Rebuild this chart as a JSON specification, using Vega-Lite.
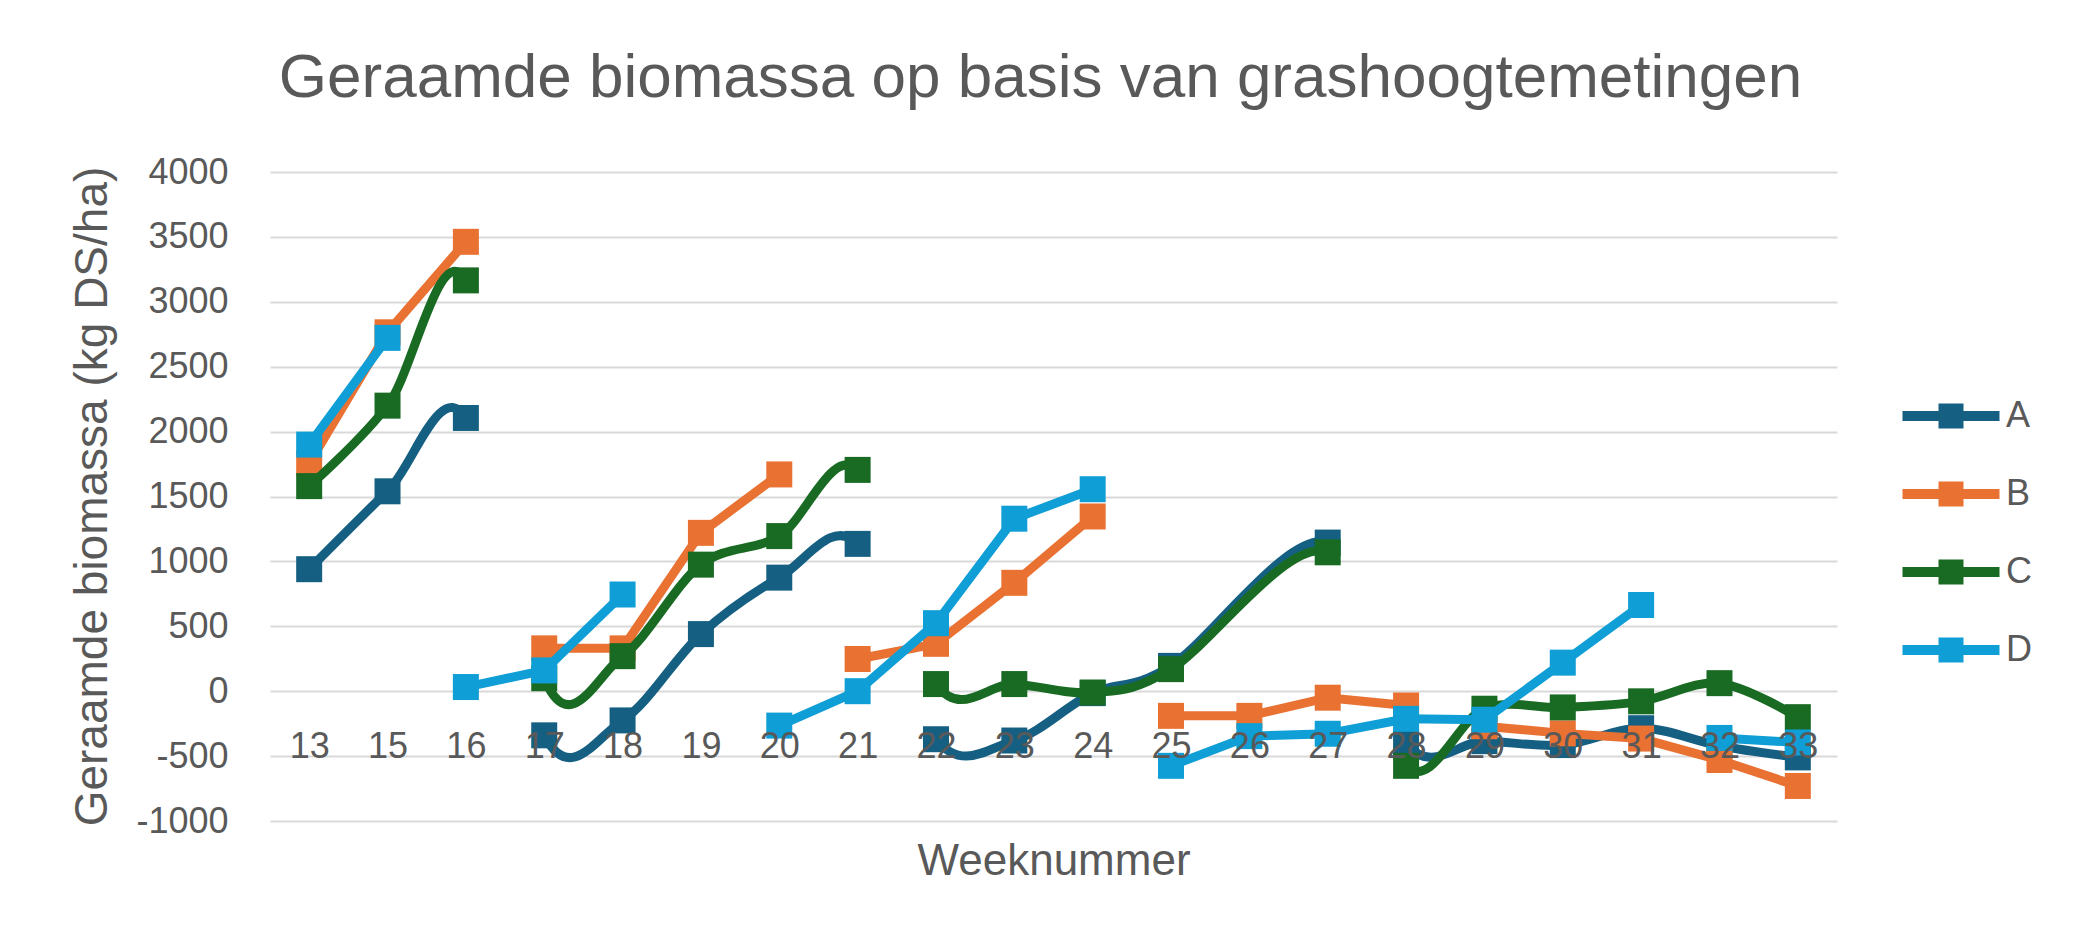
{
  "$schema": "https://vega.github.io/schema/vega-lite/v6.json",
  "width": 1567,
  "height": 649,
  "autosize": {"type": "none"},
  "padding": {"left": 270, "top": 172, "right": 245, "bottom": 124},
  "background": "white",
  "config": {
    "font": "Liberation Sans",
    "view": {"stroke": null}
  },
  "title": {
    "text": "Geraamde biomassa op basis van grashoogtemetingen",
    "fontSize": 62,
    "fontWeight": "normal",
    "color": "#595959",
    "anchor": "middle",
    "frame": "group",
    "baseline": "alphabetic",
    "offset": -5,
    "dx": -13
  },
  "data": {
    "values": [
      {"series": "A", "seg": 1, "week": "13", "value": 940},
      {"series": "A", "seg": 1, "week": "15", "value": 1540},
      {"series": "A", "seg": 1, "week": "16", "value": 2105},
      {"series": "A", "seg": 2, "week": "17", "value": -340},
      {"series": "A", "seg": 2, "week": "18", "value": -225},
      {"series": "A", "seg": 2, "week": "19", "value": 440},
      {"series": "A", "seg": 2, "week": "20", "value": 875},
      {"series": "A", "seg": 2, "week": "21", "value": 1135},
      {"series": "A", "seg": 3, "week": "22", "value": -370},
      {"series": "A", "seg": 3, "week": "23", "value": -380},
      {"series": "A", "seg": 3, "week": "24", "value": -15},
      {"series": "A", "seg": 3, "week": "25", "value": 195},
      {"series": "A", "seg": 3, "week": "27", "value": 1145},
      {"series": "A", "seg": 4, "week": "28", "value": -400},
      {"series": "A", "seg": 4, "week": "29", "value": -385},
      {"series": "A", "seg": 4, "week": "30", "value": -415},
      {"series": "A", "seg": 4, "week": "31", "value": -285},
      {"series": "A", "seg": 4, "week": "32", "value": -420},
      {"series": "A", "seg": 4, "week": "33", "value": -510},

      {"series": "B", "seg": 1, "week": "13", "value": 1755},
      {"series": "B", "seg": 1, "week": "15", "value": 2765},
      {"series": "B", "seg": 1, "week": "16", "value": 3462},
      {"series": "B", "seg": 2, "week": "17", "value": 330},
      {"series": "B", "seg": 2, "week": "18", "value": 330},
      {"series": "B", "seg": 2, "week": "19", "value": 1220},
      {"series": "B", "seg": 2, "week": "20", "value": 1670},
      {"series": "B", "seg": 3, "week": "21", "value": 248},
      {"series": "B", "seg": 3, "week": "22", "value": 365},
      {"series": "B", "seg": 3, "week": "23", "value": 835},
      {"series": "B", "seg": 3, "week": "24", "value": 1346},
      {"series": "B", "seg": 4, "week": "25", "value": -190},
      {"series": "B", "seg": 4, "week": "26", "value": -190},
      {"series": "B", "seg": 4, "week": "27", "value": -50},
      {"series": "B", "seg": 4, "week": "28", "value": -110},
      {"series": "B", "seg": 5, "week": "29", "value": -270},
      {"series": "B", "seg": 5, "week": "30", "value": -325},
      {"series": "B", "seg": 5, "week": "31", "value": -365},
      {"series": "B", "seg": 5, "week": "32", "value": -530},
      {"series": "B", "seg": 5, "week": "33", "value": -730},

      {"series": "C", "seg": 1, "week": "13", "value": 1580},
      {"series": "C", "seg": 1, "week": "15", "value": 2200},
      {"series": "C", "seg": 1, "week": "16", "value": 3165},
      {"series": "C", "seg": 2, "week": "17", "value": 100},
      {"series": "C", "seg": 2, "week": "18", "value": 270},
      {"series": "C", "seg": 2, "week": "19", "value": 975},
      {"series": "C", "seg": 2, "week": "20", "value": 1195},
      {"series": "C", "seg": 2, "week": "21", "value": 1705},
      {"series": "C", "seg": 3, "week": "22", "value": 55},
      {"series": "C", "seg": 3, "week": "23", "value": 55},
      {"series": "C", "seg": 3, "week": "24", "value": -10},
      {"series": "C", "seg": 3, "week": "25", "value": 170},
      {"series": "C", "seg": 3, "week": "27", "value": 1070},
      {"series": "C", "seg": 4, "week": "28", "value": -575},
      {"series": "C", "seg": 4, "week": "29", "value": -135},
      {"series": "C", "seg": 4, "week": "30", "value": -125},
      {"series": "C", "seg": 4, "week": "31", "value": -78},
      {"series": "C", "seg": 4, "week": "32", "value": 62},
      {"series": "C", "seg": 4, "week": "33", "value": -200},

      {"series": "D", "seg": 1, "week": "13", "value": 1900},
      {"series": "D", "seg": 1, "week": "15", "value": 2722},
      {"series": "D", "seg": 2, "week": "16", "value": 32},
      {"series": "D", "seg": 2, "week": "17", "value": 160},
      {"series": "D", "seg": 2, "week": "18", "value": 745},
      {"series": "D", "seg": 3, "week": "20", "value": -265},
      {"series": "D", "seg": 3, "week": "21", "value": 0},
      {"series": "D", "seg": 3, "week": "22", "value": 524},
      {"series": "D", "seg": 3, "week": "23", "value": 1329},
      {"series": "D", "seg": 3, "week": "24", "value": 1556},
      {"series": "D", "seg": 4, "week": "25", "value": -575},
      {"series": "D", "seg": 4, "week": "26", "value": -346},
      {"series": "D", "seg": 4, "week": "27", "value": -328},
      {"series": "D", "seg": 4, "week": "28", "value": -213},
      {"series": "D", "seg": 4, "week": "29", "value": -220},
      {"series": "D", "seg": 4, "week": "30", "value": 220},
      {"series": "D", "seg": 4, "week": "31", "value": 664},
      {"series": "D", "seg": 5, "week": "32", "value": -360},
      {"series": "D", "seg": 5, "week": "33", "value": -395}
    ]
  },
  "encoding": {
    "x": {
      "field": "week",
      "type": "ordinal",
      "scale": {"domain": ["13","15","16","17","18","19","20","21","22","23","24","25","26","27","28","29","30","31","32","33"]},
      "axis": {
        "labelAngle": 0,
        "ticks": false,
        "tickSize": 0,
        "domain": false,
        "grid": false,
        "labelPadding": -92,
        "labelBaseline": "top",
        "labelFontSize": 36,
        "labelColor": "#595959",
        "title": "Weeknummer",
        "titleFontSize": 44,
        "titleFontWeight": "normal",
        "titleColor": "#595959",
        "titleBaseline": "middle",
        "titleY": 40,
        "zindex": 1
      }
    },
    "y": {
      "field": "value",
      "type": "quantitative",
      "scale": {"domain": [-1000, 4000], "nice": false},
      "axis": {
        "values": [-1000,-500,0,500,1000,1500,2000,2500,3000,3500,4000],
        "labelExpr": "'' + datum.value",
        "ticks": false,
        "domain": false,
        "grid": true,
        "gridColor": "#d9d9d9",
        "gridWidth": 2,
        "labelPadding": 42,
        "labelFontSize": 36,
        "labelColor": "#595959",
        "title": "Geraamde biomassa (kg DS/ha)",
        "titleFontSize": 46,
        "titleFontWeight": "normal",
        "titleColor": "#595959",
        "titleAngle": -90,
        "titleAlign": "center",
        "titleBaseline": "middle",
        "titleX": -178,
        "titleY": 324
      }
    },
    "color": {
      "field": "series",
      "type": "nominal",
      "scale": {"domain": ["A","B","C","D"], "range": ["#156082","#E97132","#196B24","#0F9ED5"]},
      "legend": {
        "title": null,
        "orient": "none",
        "legendX": 1656,
        "legendY": 219,
        "padding": 0,
        "symbolType": "M-1.94,-0.2H-0.5V-0.5H0.5V-0.2H1.94V0.2H0.5V0.5H-0.5V0.2H-1.94Z",
        "symbolSize": 2500,
        "symbolStrokeWidth": 0,
        "labelOffset": 30,
        "labelFontSize": 36,
        "labelColor": "#595959",
        "rowPadding": 35,
        "encode": {
          "symbols": {
            "update": {
              "fill": {"scale": "color", "field": "value"},
              "fillOpacity": {"value": 1},
              "opacity": {"value": 1}
            }
          }
        }
      }
    }
  },
  "layer": [
    {
      "transform": [{"filter": "datum.series === 'A'"}],
      "mark": {"type": "line", "interpolate": "cardinal", "strokeWidth": 9},
      "encoding": {
        "stroke": {"value": {
          "gradient": "linear", "x1": 0, "y1": 0, "x2": 1, "y2": 0,
          "stops": [
            {"offset": 0, "color": "#156082"},
            {"offset": 0.105263, "color": "#156082"},
            {"offset": 0.105263, "color": "rgba(21,96,130,0)"},
            {"offset": 0.157895, "color": "rgba(21,96,130,0)"},
            {"offset": 0.157895, "color": "#156082"},
            {"offset": 0.368421, "color": "#156082"},
            {"offset": 0.368421, "color": "rgba(21,96,130,0)"},
            {"offset": 0.421053, "color": "rgba(21,96,130,0)"},
            {"offset": 0.421053, "color": "#156082"},
            {"offset": 0.684211, "color": "#156082"},
            {"offset": 0.684211, "color": "rgba(21,96,130,0)"},
            {"offset": 0.736842, "color": "rgba(21,96,130,0)"},
            {"offset": 0.736842, "color": "#156082"},
            {"offset": 1, "color": "#156082"}
          ]
        }}
      }
    },
    {
      "transform": [{"filter": "datum.series === 'A'"}],
      "mark": {"type": "point", "shape": "square", "filled": true, "size": 676, "opacity": 1}
    },
    {
      "transform": [{"filter": "datum.series === 'B'"}],
      "mark": {"type": "line", "interpolate": "linear", "strokeWidth": 9},
      "encoding": {"detail": {"field": "seg", "type": "nominal"}}
    },
    {
      "transform": [{"filter": "datum.series === 'B'"}],
      "mark": {"type": "point", "shape": "square", "filled": true, "size": 676, "opacity": 1}
    },
    {
      "transform": [{"filter": "datum.series === 'C'"}],
      "mark": {"type": "line", "interpolate": "cardinal", "strokeWidth": 9},
      "encoding": {
        "stroke": {"value": {
          "gradient": "linear", "x1": 0, "y1": 0, "x2": 1, "y2": 0,
          "stops": [
            {"offset": 0, "color": "#196B24"},
            {"offset": 0.105263, "color": "#196B24"},
            {"offset": 0.105263, "color": "rgba(25,107,36,0)"},
            {"offset": 0.157895, "color": "rgba(25,107,36,0)"},
            {"offset": 0.157895, "color": "#196B24"},
            {"offset": 0.368421, "color": "#196B24"},
            {"offset": 0.368421, "color": "rgba(25,107,36,0)"},
            {"offset": 0.421053, "color": "rgba(25,107,36,0)"},
            {"offset": 0.421053, "color": "#196B24"},
            {"offset": 0.684211, "color": "#196B24"},
            {"offset": 0.684211, "color": "rgba(25,107,36,0)"},
            {"offset": 0.736842, "color": "rgba(25,107,36,0)"},
            {"offset": 0.736842, "color": "#196B24"},
            {"offset": 1, "color": "#196B24"}
          ]
        }}
      }
    },
    {
      "transform": [{"filter": "datum.series === 'C'"}],
      "mark": {"type": "point", "shape": "square", "filled": true, "size": 676, "opacity": 1}
    },
    {
      "transform": [{"filter": "datum.series === 'D'"}],
      "mark": {"type": "line", "interpolate": "linear", "strokeWidth": 9},
      "encoding": {"detail": {"field": "seg", "type": "nominal"}}
    },
    {
      "transform": [{"filter": "datum.series === 'D'"}],
      "mark": {"type": "point", "shape": "square", "filled": true, "size": 676, "opacity": 1}
    }
  ]
}
